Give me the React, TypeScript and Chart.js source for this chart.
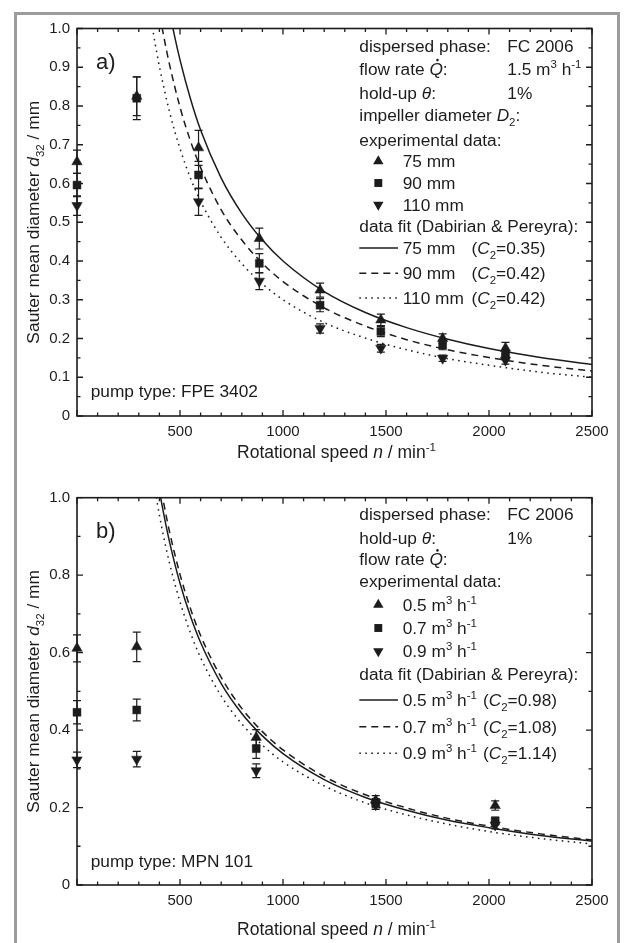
import React, { useEffect, useRef } from 'react';
import { Chart, registerables } from 'chart.js';
Chart.register(...registerables);

const FONT = '"Liberation Sans", Arial, Helvetica, sans-serif';
const INK = '#1c1c1c';

// ---------- Panel a) pump FPE 3402 ----------
const A_SPEED = [0, 290, 590, 885, 1180, 1475, 1775, 2080];
const A_D75 = [0.656, 0.825, 0.692, 0.458, 0.325, 0.248, 0.2, 0.175];
const A_D75_ERR = [0.03, 0.05, 0.045, 0.027, 0.018, 0.015, 0.012, 0.015];
const A_D90 = [0.596, 0.82, 0.622, 0.394, 0.286, 0.218, 0.183, 0.157];
const A_D90_ERR = [0.03, 0.055, 0.035, 0.025, 0.017, 0.013, 0.012, 0.012];
const A_D110 = [0.543, null, 0.553, 0.348, 0.226, 0.175, 0.149, 0.144];
const A_D110_ERR = [0.025, null, 0.035, 0.022, 0.012, 0.01, 0.008, 0.01];

const A_FIT75_N = [400, 425, 450, 475, 500, 550, 600, 700, 800, 900, 1000, 1200, 1400, 1600, 1800, 2000, 2250, 2500];
const A_FIT75 = [1.201, 1.117, 1.043, 0.977, 0.919, 0.82, 0.738, 0.614, 0.523, 0.454, 0.4, 0.321, 0.267, 0.228, 0.198, 0.174, 0.151, 0.133];
const A_FIT90_N = [375, 400, 425, 450, 500, 550, 600, 700, 800, 900, 1000, 1200, 1400, 1600, 1800, 2000, 2250, 2500];
const A_FIT90 = [1.126, 1.042, 0.969, 0.905, 0.797, 0.711, 0.641, 0.532, 0.454, 0.394, 0.347, 0.279, 0.232, 0.197, 0.171, 0.151, 0.131, 0.116];
const A_FIT110_N = [340, 360, 380, 400, 450, 500, 550, 600, 700, 800, 900, 1000, 1200, 1400, 1600, 1800, 2000, 2250, 2500];
const A_FIT110 = [1.096, 1.023, 0.959, 0.902, 0.783, 0.69, 0.615, 0.554, 0.461, 0.393, 0.341, 0.3, 0.241, 0.201, 0.171, 0.148, 0.131, 0.113, 0.1];

// ---------- Panel b) pump MPN 101 ----------
const B_SPEED = [0, 290, 870, 1450, 2030];
const B_D05 = [0.611, 0.615, 0.381, 0.219, 0.205];
const B_D05_ERR = [0.035, 0.038, 0.02, 0.012, 0.012];
const B_D07 = [0.446, 0.452, 0.352, 0.211, 0.165];
const B_D07_ERR = [0.03, 0.028, 0.025, 0.012, 0.01];
const B_D09 = [0.323, 0.325, 0.295, 0.207, 0.155];
const B_D09_ERR = [0.02, 0.02, 0.018, 0.012, 0.01];

const B_FIT05_N = [390, 400, 425, 450, 500, 550, 600, 700, 800, 900, 1000, 1200, 1400, 1600, 1800, 2000, 2250, 2500];
const B_FIT05 = [1.049, 1.018, 0.947, 0.884, 0.779, 0.695, 0.626, 0.52, 0.443, 0.385, 0.339, 0.272, 0.226, 0.193, 0.167, 0.148, 0.128, 0.113];
const B_FIT07_N = [400, 425, 450, 500, 550, 600, 700, 800, 900, 1000, 1200, 1400, 1600, 1800, 2000, 2250, 2500];
const B_FIT07 = [1.048, 0.975, 0.91, 0.802, 0.715, 0.644, 0.536, 0.456, 0.396, 0.349, 0.28, 0.233, 0.199, 0.172, 0.152, 0.132, 0.116];
const B_FIT09_N = [375, 400, 425, 450, 500, 550, 600, 700, 800, 900, 1000, 1200, 1400, 1600, 1800, 2000, 2250, 2500];
const B_FIT09 = [1.032, 0.955, 0.888, 0.829, 0.731, 0.652, 0.587, 0.488, 0.416, 0.361, 0.318, 0.256, 0.212, 0.181, 0.157, 0.138, 0.12, 0.106];

// Axis ranges / ticks
const X_MIN = 0;
const X_MAX = 2500;
const X_MAJOR = 500;
const X_MINOR = 100;
const Y_MIN = 0;
const Y_MAX = 1;
const A_Y_MAJOR = 0.1;
const A_Y_MINOR = 0.05;
const B_Y_MAJOR = 0.2;
const B_Y_MINOR = 0.1;

type Seg = { t: string; it?: boolean; sub?: boolean; sup?: boolean; dot?: boolean };

function segFont(s: Seg, size: number) {
  const sz = s.sub || s.sup ? size * 0.66 : size;
  return `${s.it ? 'italic ' : ''}${sz}px ${FONT}`;
}
function richWidth(ctx: CanvasRenderingContext2D, segs: Seg[], size: number) {
  let w = 0;
  for (const s of segs) {
    ctx.font = segFont(s, size);
    w += ctx.measureText(s.t).width;
  }
  return w;
}
function drawRich(ctx: CanvasRenderingContext2D, segs: Seg[], x: number, y: number, size: number, align = 'left') {
  ctx.save();
  ctx.textAlign = 'left';
  ctx.textBaseline = 'alphabetic';
  ctx.fillStyle = INK;
  let cx = align === 'center' ? x - richWidth(ctx, segs, size) / 2 : x;
  for (const s of segs) {
    ctx.font = segFont(s, size);
    const dy = s.sub ? size * 0.3 : s.sup ? -size * 0.4 : 0;
    ctx.fillText(s.t, cx, y + dy);
    const w = ctx.measureText(s.t).width;
    if (s.dot) {
      ctx.beginPath();
      ctx.arc(cx + w * 0.6, y - size * 0.86, size * 0.075, 0, Math.PI * 2);
      ctx.fill();
    }
    cx += w;
  }
  ctx.restore();
}

const TRI_R = 6;
const SQ_R = 5.6;

function drawMarker(ctx: CanvasRenderingContext2D, kind: string, x: number, y: number) {
  ctx.save();
  ctx.fillStyle = INK;
  ctx.beginPath();
  if (kind === 'sq') {
    const h = SQ_R * Math.SQRT1_2;
    ctx.rect(x - h, y - h, 2 * h, 2 * h);
  } else {
    const s = kind === 'tri' ? 1 : -1;
    const a = (Math.PI * 2) / 3;
    for (let k = 0; k < 3; k++) {
      const ang = k * a;
      const px = x + Math.sin(ang) * TRI_R;
      const py = y - s * Math.cos(ang) * TRI_R;
      if (k === 0) ctx.moveTo(px, py);
      else ctx.lineTo(px, py);
    }
    ctx.closePath();
  }
  ctx.fill();
  ctx.restore();
}

const DASH: Record<string, number[]> = { solid: [], dash: [7, 5], dot: [1.6, 4.4] };

type Row = { y: number; segs: Seg[]; x?: number; right?: Seg[]; marker?: string; line?: string; segs2?: Seg[]; x2?: number };

const MH: Seg[] = [{ t: ' m' }, { t: '3', sup: true }, { t: ' h' }, { t: '-1', sup: true }];
const c2 = (v: string): Seg[] => [{ t: '(' }, { t: 'C', it: true }, { t: '2', sub: true }, { t: '=' + v + ')' }];

const A_ROWS: Row[] = [
  { y: 51.7, segs: [{ t: 'dispersed phase:' }], right: [{ t: 'FC 2006' }] },
  { y: 75, segs: [{ t: 'flow rate ' }, { t: 'Q', it: true, dot: true }, { t: ':' }], right: [{ t: '1.5' }, ...MH] },
  { y: 98.5, segs: [{ t: 'hold-up ' }, { t: 'θ', it: true }, { t: ':' }], right: [{ t: '1%' }] },
  { y: 120.7, segs: [{ t: 'impeller diameter ' }, { t: 'D', it: true }, { t: '2', sub: true }, { t: ':' }] },
  { y: 146, segs: [{ t: 'experimental data:' }] },
  { y: 167.3, marker: 'tri', segs: [{ t: '75 mm' }] },
  { y: 189, marker: 'sq', segs: [{ t: '90 mm' }] },
  { y: 210.7, marker: 'dtri', segs: [{ t: '110 mm' }] },
  { y: 232.3, segs: [{ t: 'data fit (Dabirian & Pereyra):' }] },
  { y: 254, line: 'solid', segs: [{ t: '75 mm' }], segs2: c2('0.35'), x2: 471.5 },
  { y: 279.3, line: 'dash', segs: [{ t: '90 mm' }], segs2: c2('0.42'), x2: 471.5 },
  { y: 304, line: 'dot', segs: [{ t: '110 mm' }], segs2: c2('0.42'), x2: 471.5 },
];

const B_ROWS: Row[] = [
  { y: 50, segs: [{ t: 'dispersed phase:' }], right: [{ t: 'FC 2006' }] },
  { y: 74, segs: [{ t: 'hold-up ' }, { t: 'θ', it: true }, { t: ':' }], right: [{ t: '1%' }] },
  { y: 95.3, segs: [{ t: 'flow rate ' }, { t: 'Q', it: true, dot: true }, { t: ':' }] },
  { y: 116.7, segs: [{ t: 'experimental data:' }] },
  { y: 140.7, marker: 'tri', segs: [{ t: '0.5' }, ...MH] },
  { y: 164, marker: 'sq', segs: [{ t: '0.7' }, ...MH] },
  { y: 187.3, marker: 'dtri', segs: [{ t: '0.9' }, ...MH] },
  { y: 210, segs: [{ t: 'data fit (Dabirian & Pereyra):' }] },
  { y: 236, line: 'solid', segs: [{ t: '0.5' }, ...MH], segs2: c2('0.98'), x2: 483 },
  { y: 262.7, line: 'dash', segs: [{ t: '0.7' }, ...MH], segs2: c2('1.08'), x2: 483 },
  { y: 289.3, line: 'dot', segs: [{ t: '0.9' }, ...MH], segs2: c2('1.14'), x2: 483 },
];

type Series = { x: number[]; y: (number | null)[]; err: (number | null)[]; kind: string };
type Fit = { x: number[]; y: number[]; line: string };

type PanelCfg = {
  height: number;
  padTop: number;
  xHeight: number;
  yMajor: number;
  yMinor: number;
  series: Series[];
  fits: Fit[];
  rows: Row[];
  label: string;
  labelY: number;
  pump: string;
  pumpY: number;
  xTitleY: number;
};

const PANEL_A: PanelCfg = {
  height: 470,
  padTop: 28.5,
  xHeight: 54,
  yMajor: A_Y_MAJOR,
  yMinor: A_Y_MINOR,
  series: [
    { x: A_SPEED, y: A_D75, err: A_D75_ERR, kind: 'tri' },
    { x: A_SPEED, y: A_D90, err: A_D90_ERR, kind: 'sq' },
    { x: A_SPEED, y: A_D110, err: A_D110_ERR, kind: 'dtri' },
  ],
  fits: [
    { x: A_FIT75_N, y: A_FIT75, line: 'solid' },
    { x: A_FIT90_N, y: A_FIT90, line: 'dash' },
    { x: A_FIT110_N, y: A_FIT110, line: 'dot' },
  ],
  rows: A_ROWS,
  label: 'a)',
  labelY: 69,
  pump: 'pump type: FPE 3402',
  pumpY: 397.3,
  xTitleY: 457.5,
};

const PANEL_B: PanelCfg = {
  height: 473,
  padTop: 27.7,
  xHeight: 58,
  yMajor: B_Y_MAJOR,
  yMinor: B_Y_MINOR,
  series: [
    { x: B_SPEED, y: B_D05, err: B_D05_ERR, kind: 'tri' },
    { x: B_SPEED, y: B_D07, err: B_D07_ERR, kind: 'sq' },
    { x: B_SPEED, y: B_D09, err: B_D09_ERR, kind: 'dtri' },
  ],
  fits: [
    { x: B_FIT05_N, y: B_FIT05, line: 'solid' },
    { x: B_FIT07_N, y: B_FIT07, line: 'dash' },
    { x: B_FIT09_N, y: B_FIT09, line: 'dot' },
  ],
  rows: B_ROWS,
  label: 'b)',
  labelY: 68,
  pump: 'pump type: MPN 101',
  pumpY: 396.7,
  xTitleY: 465,
};

function makePlugin(cfg: PanelCfg) {
  return {
    id: 'decor',
    beforeDatasetsDraw(chart: any) {
      const ctx: CanvasRenderingContext2D = chart.ctx;
      const xs = chart.scales.x;
      const ys = chart.scales.y;
      ctx.save();
      ctx.strokeStyle = INK;
      ctx.lineWidth = 1.2;
      for (const s of cfg.series) {
        s.x.forEach((xv, i) => {
          const v = s.y[i];
          const e = s.err[i];
          if (v == null || e == null) return;
          const px = xs.getPixelForValue(xv);
          const p1 = ys.getPixelForValue(v + e);
          const p2 = ys.getPixelForValue(v - e);
          ctx.beginPath();
          ctx.moveTo(px, p1);
          ctx.lineTo(px, p2);
          ctx.moveTo(px - 4, p1);
          ctx.lineTo(px + 4, p1);
          ctx.moveTo(px - 4, p2);
          ctx.lineTo(px + 4, p2);
          ctx.stroke();
        });
      }
      ctx.restore();
    },
    afterDraw(chart: any) {
      const ctx: CanvasRenderingContext2D = chart.ctx;
      const { left, right, top, bottom } = chart.chartArea;
      const xs = chart.scales.x;
      const ys = chart.scales.y;
      ctx.save();
      ctx.strokeStyle = INK;
      ctx.lineWidth = 1.6;
      ctx.strokeRect(left, top, right - left, bottom - top);
      ctx.lineWidth = 1.3;
      ctx.beginPath();
      const nx = Math.round((X_MAX - X_MIN) / X_MINOR);
      for (let i = 0; i <= nx; i++) {
        const v = X_MIN + i * X_MINOR;
        const px = xs.getPixelForValue(v);
        const len = Math.abs(v % X_MAJOR) < 1e-6 ? 6 : 3.5;
        ctx.moveTo(px, bottom);
        ctx.lineTo(px, bottom - len);
        ctx.moveTo(px, top);
        ctx.lineTo(px, top + len);
      }
      const ny = Math.round((Y_MAX - Y_MIN) / cfg.yMinor);
      const ratio = Math.round(cfg.yMajor / cfg.yMinor);
      for (let i = 0; i <= ny; i++) {
        const v = Y_MIN + i * cfg.yMinor;
        const py = ys.getPixelForValue(v);
        const len = i % ratio === 0 ? 6 : 3.5;
        ctx.moveTo(left, py);
        ctx.lineTo(left + len, py);
        ctx.moveTo(right, py);
        ctx.lineTo(right - len, py);
      }
      ctx.stroke();

      // legend block
      const LX = 359.3;
      const RX = 507.3;
      const MX = 378.3;
      const TX = 402.7;
      const FS = 17.3;
      for (const r of cfg.rows) {
        if (r.marker) {
          drawMarker(ctx, r.marker, MX, r.y - 6);
          drawRich(ctx, r.segs, TX, r.y, FS);
        } else if (r.line) {
          ctx.save();
          ctx.strokeStyle = INK;
          ctx.lineWidth = 1.5;
          ctx.setLineDash(DASH[r.line]);
          ctx.beginPath();
          ctx.moveTo(LX, r.y - 6);
          ctx.lineTo(398, r.y - 6);
          ctx.stroke();
          ctx.restore();
          drawRich(ctx, r.segs, TX, r.y, FS);
          if (r.segs2) drawRich(ctx, r.segs2, r.x2 as number, r.y, FS);
        } else {
          drawRich(ctx, r.segs, LX, r.y, FS);
          if (r.right) drawRich(ctx, r.right, RX, r.y, FS);
        }
      }

      // panel label & pump type
      drawRich(ctx, [{ t: cfg.label }], 96, cfg.labelY, 22);
      drawRich(ctx, [{ t: cfg.pump }], 90.7, cfg.pumpY, 17.3);

      // axis titles
      drawRich(
        ctx,
        [{ t: 'Rotational speed ' }, { t: 'n', it: true }, { t: ' / min' }, { t: '-1', sup: true }],
        (left + right) / 2 + 2,
        cfg.xTitleY,
        17.5,
        'center'
      );
      ctx.save();
      ctx.translate(38.5, (top + bottom) / 2);
      ctx.rotate(-Math.PI / 2);
      drawRich(
        ctx,
        [{ t: 'Sauter mean diameter ' }, { t: 'd', it: true }, { t: '32', sub: true }, { t: ' / mm' }],
        0,
        0,
        17.4,
        'center'
      );
      ctx.restore();
      ctx.restore();
    },
  };
}

function Panel({ cfg, top }: { cfg: PanelCfg; top: number }) {
  const ref = useRef<HTMLCanvasElement>(null);
  useEffect(() => {
    const canvas = ref.current as HTMLCanvasElement;
    const datasets: any[] = [];
    for (const f of cfg.fits) {
      datasets.push({
        type: 'line',
        data: f.x.map((x, i) => ({ x, y: f.y[i] })),
        borderColor: INK,
        borderWidth: 1.5,
        borderDash: DASH[f.line],
        pointRadius: 0,
        fill: false,
        cubicInterpolationMode: 'monotone',
      });
    }
    for (const s of cfg.series) {
      const pts: { x: number; y: number }[] = [];
      s.x.forEach((x, i) => {
        const v = s.y[i];
        if (v != null) pts.push({ x, y: v });
      });
      const r = s.kind === 'sq' ? SQ_R : TRI_R;
      datasets.push({
        type: 'scatter',
        data: pts,
        showLine: false,
        pointStyle: s.kind === 'sq' ? 'rect' : 'triangle',
        rotation: s.kind === 'dtri' ? 180 : 0,
        pointRadius: r,
        pointHoverRadius: r,
        backgroundColor: INK,
        borderColor: INK,
        borderWidth: 0.5,
        clip: false,
      });
    }
    const chart = new Chart(canvas, {
      type: 'scatter',
      data: { datasets },
      plugins: [makePlugin(cfg)],
      options: {
        responsive: false,
        animation: false,
        devicePixelRatio: 1,
        events: [],
        layout: { padding: { top: cfg.padTop, right: 33, left: 0, bottom: 0 } },
        plugins: { legend: { display: false }, tooltip: { enabled: false } },
        scales: {
          x: {
            type: 'linear',
            min: X_MIN,
            max: X_MAX,
            afterFit: (s: any) => {
              s.height = cfg.xHeight;
            },
            grid: { display: false, drawTicks: false },
            border: { display: false },
            ticks: {
              stepSize: X_MAJOR,
              padding: 7,
              color: INK,
              font: { family: FONT, size: 15 },
              maxRotation: 0,
              callback: (v: any) => (Number(v) === 0 ? '' : String(v)),
            },
          },
          y: {
            type: 'linear',
            min: Y_MIN,
            max: Y_MAX,
            afterFit: (s: any) => {
              s.width = 77;
            },
            grid: { display: false, drawTicks: false },
            border: { display: false },
            ticks: {
              stepSize: cfg.yMajor,
              padding: 7,
              color: INK,
              font: { family: FONT, size: 15 },
              callback: (v: any) => (Number(v) === 0 ? '0' : Number(v).toFixed(1)),
            },
          },
        },
      } as any,
    });
    return () => chart.destroy();
  }, [cfg]);
  return (
    <canvas
      ref={ref}
      width={625}
      height={cfg.height}
      style={{ position: 'absolute', left: 0, top, width: 625, height: cfg.height, display: 'block' }}
    />
  );
}

export default function App() {
  useEffect(() => {
    document.body.style.margin = '0';
  }, []);
  return (
    <div
      style={{
        position: 'absolute',
        left: 0,
        top: 0,
        width: 625,
        height: 943,
        overflow: 'hidden',
        background: '#fff',
      }}
    >
      <div
        style={{
          position: 'absolute',
          left: 14,
          top: 12,
          width: 600,
          height: 1000,
          border: '3px solid #9c9c9c',
        }}
      />
      <Panel cfg={PANEL_A} top={0} />
      <Panel cfg={PANEL_B} top={470} />
    </div>
  );
}
